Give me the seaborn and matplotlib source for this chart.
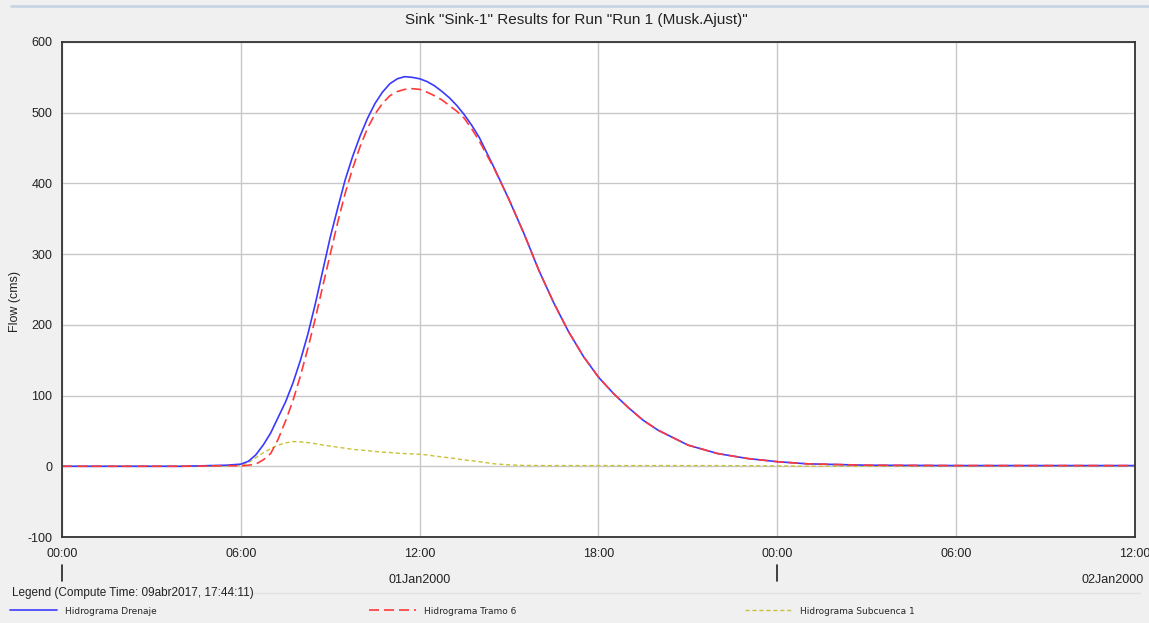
import pandas as pd
import numpy as np
import matplotlib
matplotlib.use("Agg")
import matplotlib.pyplot as plt
import matplotlib.dates as mdates
from matplotlib.lines import Line2D
import seaborn as sns

# ---- data (hours after 01Jan2000 00:00, flow in cms) ----
hours = [0, 4, 5, 5.5, 6, 6.25, 6.5, 6.75, 7, 7.25, 7.5, 7.75, 8, 8.25, 8.5, 8.75,
         9, 9.25, 9.5, 9.75, 10, 10.25, 10.5, 10.75, 11, 11.25, 11.5, 11.75, 12,
         12.25, 12.5, 12.75, 13, 13.25, 13.5, 13.75, 14, 14.5, 15, 15.5, 16, 16.5,
         17, 17.5, 18, 18.5, 19, 19.5, 20, 21, 22, 23, 24, 25, 26, 27, 30, 33, 36]

drenaje = [0, 0, 1, 1.5, 3, 7, 16, 30, 47, 69, 91, 118, 150, 187, 230, 277,
           324, 365, 405, 438, 467, 492, 513, 529, 541, 548, 551, 550, 548,
           544, 538, 530, 521, 510, 497, 482, 465, 422, 377, 329, 277, 231,
           190, 155, 126, 103, 83, 65, 51, 30, 18, 11, 6.5, 3.5, 2.5, 1.5, 1, 1, 1]

tramo6 = [0, 0, 0.5, 1, 0.5, 1.5, 3, 9, 18, 38, 64, 93, 128, 167, 209, 255,
          300, 345, 386, 421, 452, 478, 498, 513, 524, 530, 533, 534, 533,
          529, 524, 518, 510, 502, 492, 477, 460, 421, 377, 329, 277, 231,
          190, 155, 126, 103, 83, 65, 51, 30, 18, 11, 6.5, 3.5, 2.5, 1.5, 1, 1, 1]

subcuenca1 = [0, 0, 0, 0.5, 1, 5, 12, 19, 25, 30, 33, 35, 34.5, 33.5, 32, 30,
              28.5, 27, 25.5, 24, 23, 22, 21, 20, 19.5, 18.5, 18, 17.5, 17,
              16, 14.5, 13.2, 12, 10.5, 9, 7.8, 6.5, 3.5, 2, 1.2, 1, 1,
              1, 1, 1, 1, 1, 1, 1, 1, 1, 0.8, 0.5, 0, 0, 0, 0, 0, 0]

series_names = ["Hidrograma Drenaje", "Hidrograma Tramo 6", "Hidrograma Subcuenca 1"]
series_colors = ["#3a3aff", "#ff3a3a", "#c8c23a"]
date_labels = ["01Jan2000", "02Jan2000"]

start = pd.Timestamp("2000-01-01 00:00")
times = start + pd.to_timedelta(hours, unit="h")

df = pd.DataFrame({"time": times, "Drenaje": drenaje, "Tramo6": tramo6,
                   "Subcuenca1": subcuenca1})

# ---- figure ----
sns.set_style("white")
plt.rcParams["font.family"] = ["Liberation Sans", "DejaVu Sans"]
plt.rcParams["axes.unicode_minus"] = False

fig = plt.figure(figsize=(11.49, 6.23), dpi=100, facecolor="#f0f0f0")
ax = fig.add_axes([62 / 1149, 1 - 537 / 623, (1135 - 62) / 1149, (537 - 42) / 623])
ax.set_facecolor("white")

sns.lineplot(data=df, x="time", y="Subcuenca1", ax=ax, color=series_colors[2],
             lw=1.0, linestyle=(0, (3, 2)))
sns.lineplot(data=df, x="time", y="Drenaje", ax=ax, color=series_colors[0], lw=1.2)
sns.lineplot(data=df, x="time", y="Tramo6", ax=ax, color=series_colors[1], lw=1.2,
             linestyle=(0, (6, 3)))

ax.set_xlim(start, start + pd.Timedelta(hours=36))
ax.set_ylim(-100, 600)
ax.set_yticks(range(-100, 601, 100))
ax.xaxis.set_major_locator(mdates.HourLocator(byhour=[0, 6, 12, 18]))
ax.xaxis.set_major_formatter(mdates.DateFormatter("%H:%M"))
ax.grid(True, color="#c8c8c8", lw=1)
ax.tick_params(axis="both", direction="out", length=4, width=1, color="#222222",
               labelsize=9, labelcolor="#222222", pad=3)
ax.tick_params(axis="x", length=5)
for s in ax.spines.values():
    s.set_color("#333333")
    s.set_linewidth(1.3)
ax.set_xlabel("")
ax.set_ylabel("")

# day separator marks and date labels below the time labels
xt = ax.get_xaxis_transform()
for day in [start, start + pd.Timedelta(days=1)]:
    ax.plot([day, day], [-0.057, -0.088], transform=xt,
            color="#222222", lw=1.2, clip_on=False)
ax.text(start + pd.Timedelta(hours=12), -0.087, date_labels[0], transform=xt,
        ha="center", va="center", fontsize=9, color="#222222")
ax.text(start + pd.Timedelta(hours=36.3), -0.087, date_labels[1], transform=xt,
        ha="right", va="center", fontsize=9, color="#222222")

fig.text(15 / 1149, 1 - 302 / 623, "Flow (cms)", rotation=90, ha="center",
         va="center", fontsize=9, color="#222222")
fig.text(0.502, 1 - 20 / 623, 'Sink "Sink-1" Results for Run "Run 1 (Musk.Ajust)"',
         ha="center", va="center", fontsize=11, color="#222222")

# top window border line
fig.add_artist(Line2D([0.01, 1], [1 - 6 / 623, 1 - 6 / 623], color="#c6d4e4", lw=2))

# legend panel
fig.text(12 / 1149, 1 - 593 / 623, "Legend (Compute Time: 09abr2017, 17:44:11)",
         ha="left", va="center", fontsize=8.5, color="#222222")
fig.add_artist(Line2D([252 / 1149, 1140 / 1149], [1 - 593 / 623, 1 - 593 / 623],
                      color="#e2e2e2", lw=1))
legend_x = [10 / 1149, 369 / 1149, 745 / 1149]
handles = [Line2D([], [], color=series_colors[0], lw=1.2),
           Line2D([], [], color=series_colors[1], lw=1.2, linestyle=(0, (6, 3))),
           Line2D([], [], color=series_colors[2], lw=1.0, linestyle=(0, (3, 2)))]
for h, name, x in zip(handles, series_names, legend_x):
    fig.legend(handles=[h], labels=[name], loc="center left",
               bbox_to_anchor=(x, 1 - 611 / 623), frameon=False,
               prop={"family": "DejaVu Sans", "size": 6.5},
               handlelength=5.2, handletextpad=0.9, borderpad=0, borderaxespad=0)

fig.savefig("out.png", dpi=100, facecolor=fig.get_facecolor())
